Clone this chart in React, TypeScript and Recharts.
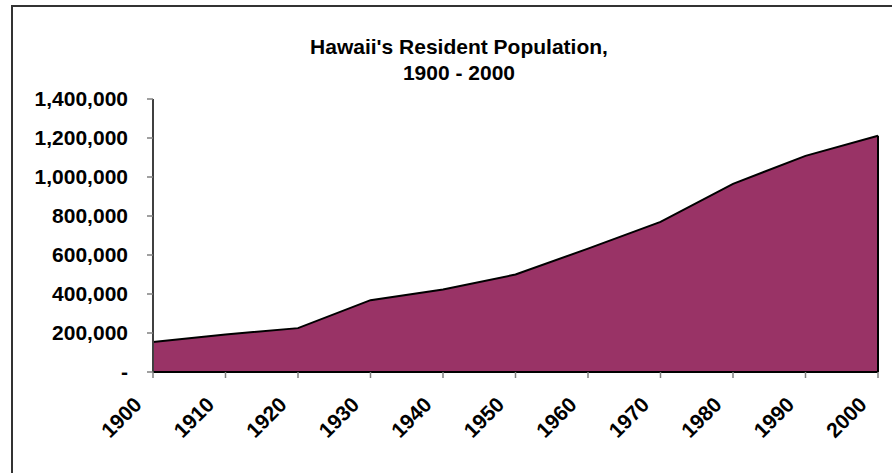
import { Area, AreaChart, ReferenceLine, XAxis, YAxis } from 'recharts'

const years = [1900, 1910, 1920, 1930, 1940, 1950, 1960, 1970, 1980, 1990, 2000]
const population = [154001, 191874, 225000, 368300, 423330, 499794, 632772, 769913, 964691, 1108229, 1211537]
const yTicks = [0, 200000, 400000, 600000, 800000, 1000000, 1200000, 1400000]

const data = years.map((year, i) => ({ year, population: population[i] }))

const FONT = '"Liberation Sans", Arial, sans-serif'

function YearTick({ x, y, payload }: any) {
  const px = x - 10
  const py = y + 26
  return (
    <text
      x={px}
      y={py}
      transform={`rotate(-45, ${px}, ${py})`}
      textAnchor="end"
      fontFamily={FONT}
      fontWeight="bold"
      fontSize={21}
      fill="#000"
    >
      {payload.value}
    </text>
  )
}

const fmt = (v: number) => (v === 0 ? '-' : v.toLocaleString('en-US'))

export default function App() {
  return (
    <div style={{ position: 'absolute', left: 0, top: 0, width: 892, height: 473, overflow: 'hidden', background: '#fff' }}>
      <div
        style={{
          position: 'absolute',
          left: 11,
          top: 5,
          width: 920,
          height: 520,
          border: '2px solid #333',
          boxSizing: 'border-box',
        }}
      />
      <div
        style={{
          position: 'absolute',
          left: 0,
          top: 34,
          width: 918,
          textAlign: 'center',
          fontFamily: FONT,
          fontWeight: 'bold',
          fontSize: 21,
          lineHeight: '26px',
          color: '#000',
        }}
      >
        Hawaii's Resident Population,
        <br />
        1900 - 2000
      </div>
      <div style={{ position: 'absolute', left: 0, top: 0 }}>
        <AreaChart width={892} height={473} data={data} margin={{ top: 99, right: 14, bottom: 41, left: 0 }}>
          <XAxis
            xAxisId="top"
            orientation="top"
            dataKey="year"
            type="number"
            domain={[1900, 2000]}
            height={0}
            tick={false}
            tickLine={false}
            axisLine={{ stroke: '#808080', strokeWidth: 2 }}
          />
          <YAxis
            yAxisId="right"
            orientation="right"
            domain={[0, 1400000]}
            width={0}
            tick={false}
            tickLine={false}
            axisLine={{ stroke: '#808080', strokeWidth: 2 }}
          />
          <XAxis
            dataKey="year"
            type="number"
            domain={[1900, 2000]}
            ticks={years}
            interval={0}
            height={60}
            tickSize={6}
            tickMargin={2}
            tickLine={{ stroke: '#808080', strokeWidth: 1.5 }}
            axisLine={{ stroke: '#000', strokeWidth: 2 }}
            tick={<YearTick />}
          />
          <YAxis
            domain={[0, 1400000]}
            ticks={yTicks}
            interval={0}
            width={153}
            tickSize={6}
            tickMargin={19}
            tickFormatter={fmt}
            tickLine={{ stroke: '#808080', strokeWidth: 1.5 }}
            axisLine={{ stroke: '#404040', strokeWidth: 2 }}
            tick={{ fontFamily: FONT, fontWeight: 'bold', fontSize: 21, fill: '#000' }}
          />
          <Area
            type="linear"
            dataKey="population"
            fill="#993366"
            fillOpacity={1}
            stroke="#000"
            strokeWidth={2}
            dot={false}
            activeDot={false}
            isAnimationActive={false}
          />
          <ReferenceLine
            segment={[
              { x: years[years.length - 1], y: 0 },
              { x: years[years.length - 1], y: population[population.length - 1] },
            ]}
            stroke="#000"
            strokeWidth={2}
          />
          <ReferenceLine
            segment={[
              { x: years[0], y: 0 },
              { x: years[0], y: population[0] },
            ]}
            stroke="#000"
            strokeWidth={2}
          />
        </AreaChart>
      </div>
    </div>
  )
}
